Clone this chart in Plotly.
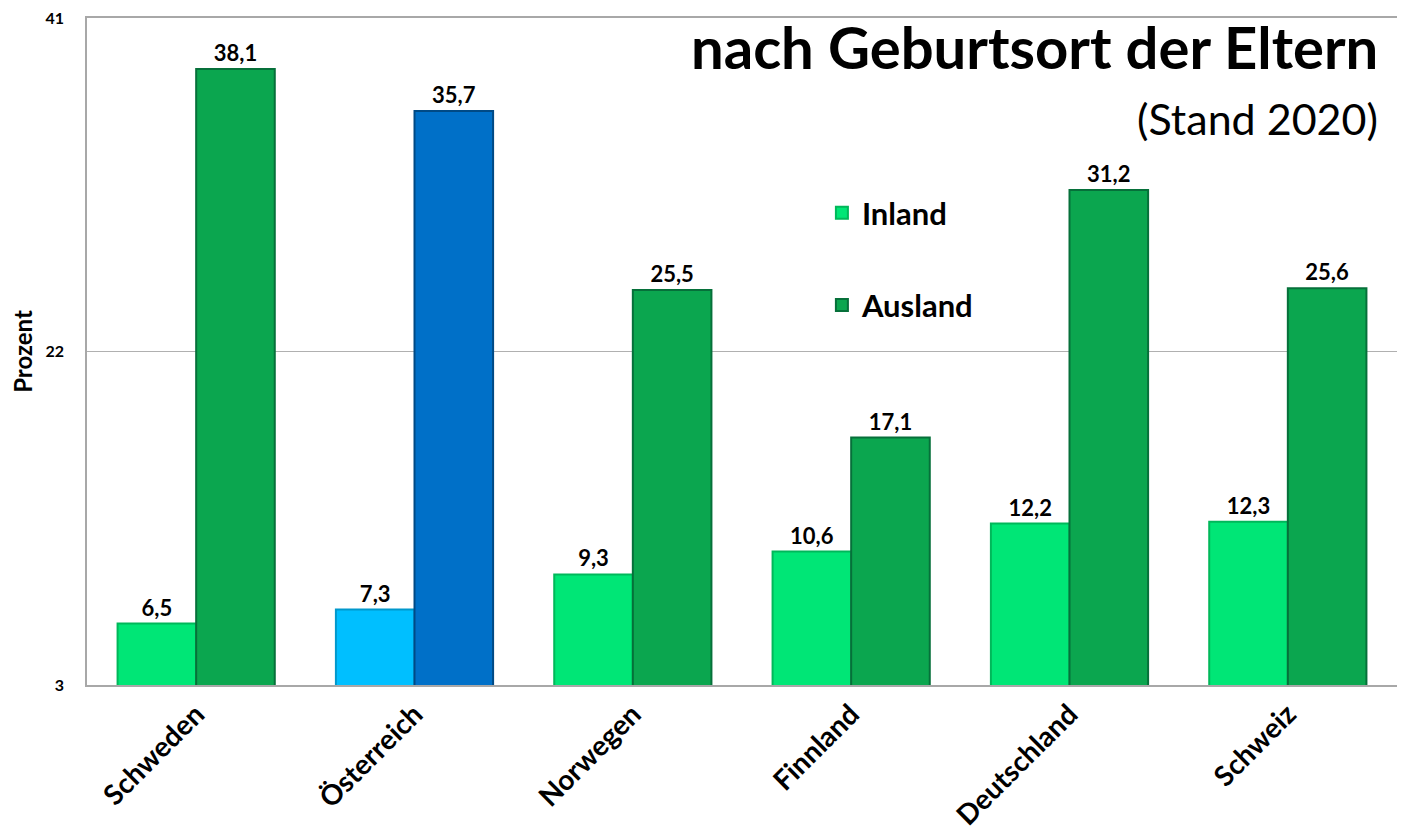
import plotly.graph_objects as go

countries = ["Schweden", "Österreich", "Norwegen", "Finnland", "Deutschland", "Schweiz"]
inland = [6.5, 7.3, 9.3, 10.6, 12.2, 12.3]
ausland = [38.1, 35.7, 25.5, 17.1, 31.2, 25.6]
y_ticks = [3, 22, 41]
inland_colors = ["#00E676", "#00BFFF", "#00E676", "#00E676", "#00E676", "#00E676"]
ausland_colors = ["#0BA64F", "#0070C8", "#0BA64F", "#0BA64F", "#0BA64F", "#0BA64F"]
inland_lines = ["#00B85A", "#0098CC", "#00B85A", "#00B85A", "#00B85A", "#00B85A"]
ausland_lines = ["#06703A", "#004A85", "#06703A", "#06703A", "#06703A", "#06703A"]

FONT = "Lato"

fig = go.Figure()
fig.add_trace(go.Bar(
    x=countries, y=inland, name="Inland", legendgroup="a",
    marker=dict(color=inland_colors, line=dict(color=inland_lines, width=2)),
    texttemplate="%{y:.1f}", textposition="outside",
    textfont=dict(family=FONT, size=22, color="black", weight="bold"),
    cliponaxis=False,
))
fig.add_trace(go.Bar(
    x=countries, y=ausland, name="Ausland", legendgroup="b",
    marker=dict(color=ausland_colors, line=dict(color=ausland_lines, width=2)),
    texttemplate="%{y:.1f}", textposition="outside",
    textfont=dict(family=FONT, size=22, color="black", weight="bold"),
    cliponaxis=False,
))

fig.update_layout(
    width=1397, height=828,
    separators=",.",
    barmode="group", bargap=0.28, bargroupgap=0,
    plot_bgcolor="white", paper_bgcolor="white",
    margin=dict(l=79, r=8, t=10, b=151, autoexpand=False),
    font=dict(family=FONT, color="black"),
    legend=dict(
        x=0.561, y=0.748, xanchor="left", yanchor="top",
        font=dict(family=FONT, size=31, color="black", weight="bold"),
        traceorder="grouped", tracegroupgap=49, bgcolor="rgba(0,0,0,0)",
    ),
    xaxis=dict(
        tickangle=-45, automargin=False,
        tickfont=dict(family=FONT, size=28, color="black", weight="bold"),
        showline=True, mirror=True, linecolor="#A8A8A8", linewidth=1.5, ticks="",
    ),
    yaxis=dict(
        range=[3, 41], tickvals=y_ticks, ticklabeloverflow="allow", automargin=False,
        tickfont=dict(family=FONT, size=16, color="black", weight="bold"),
        showgrid=True, gridcolor="#B0B0B0", gridwidth=1,
        showline=True, linecolor="#A8A8A8", linewidth=1.5,
        zeroline=False, ticks="outside", ticklen=18, tickcolor="rgba(0,0,0,0)",
        title=dict(text="Prozent", font=dict(family=FONT, size=24, color="black", weight="bold"), standoff=8),
    ),
    annotations=[
        dict(text="<b>nach Geburtsort der Eltern</b>", xref="paper", yref="paper",
             x=0.987, y=1.012, xanchor="right", yanchor="top", showarrow=False,
             font=dict(family=FONT, size=58, color="black")),
        dict(text="(Stand 2020)", xref="paper", yref="paper",
             x=0.987, y=0.89, xanchor="right", yanchor="top", showarrow=False,
             font=dict(family=FONT, size=43, color="black")),
    ],
)

fig.write_html("out.html")
